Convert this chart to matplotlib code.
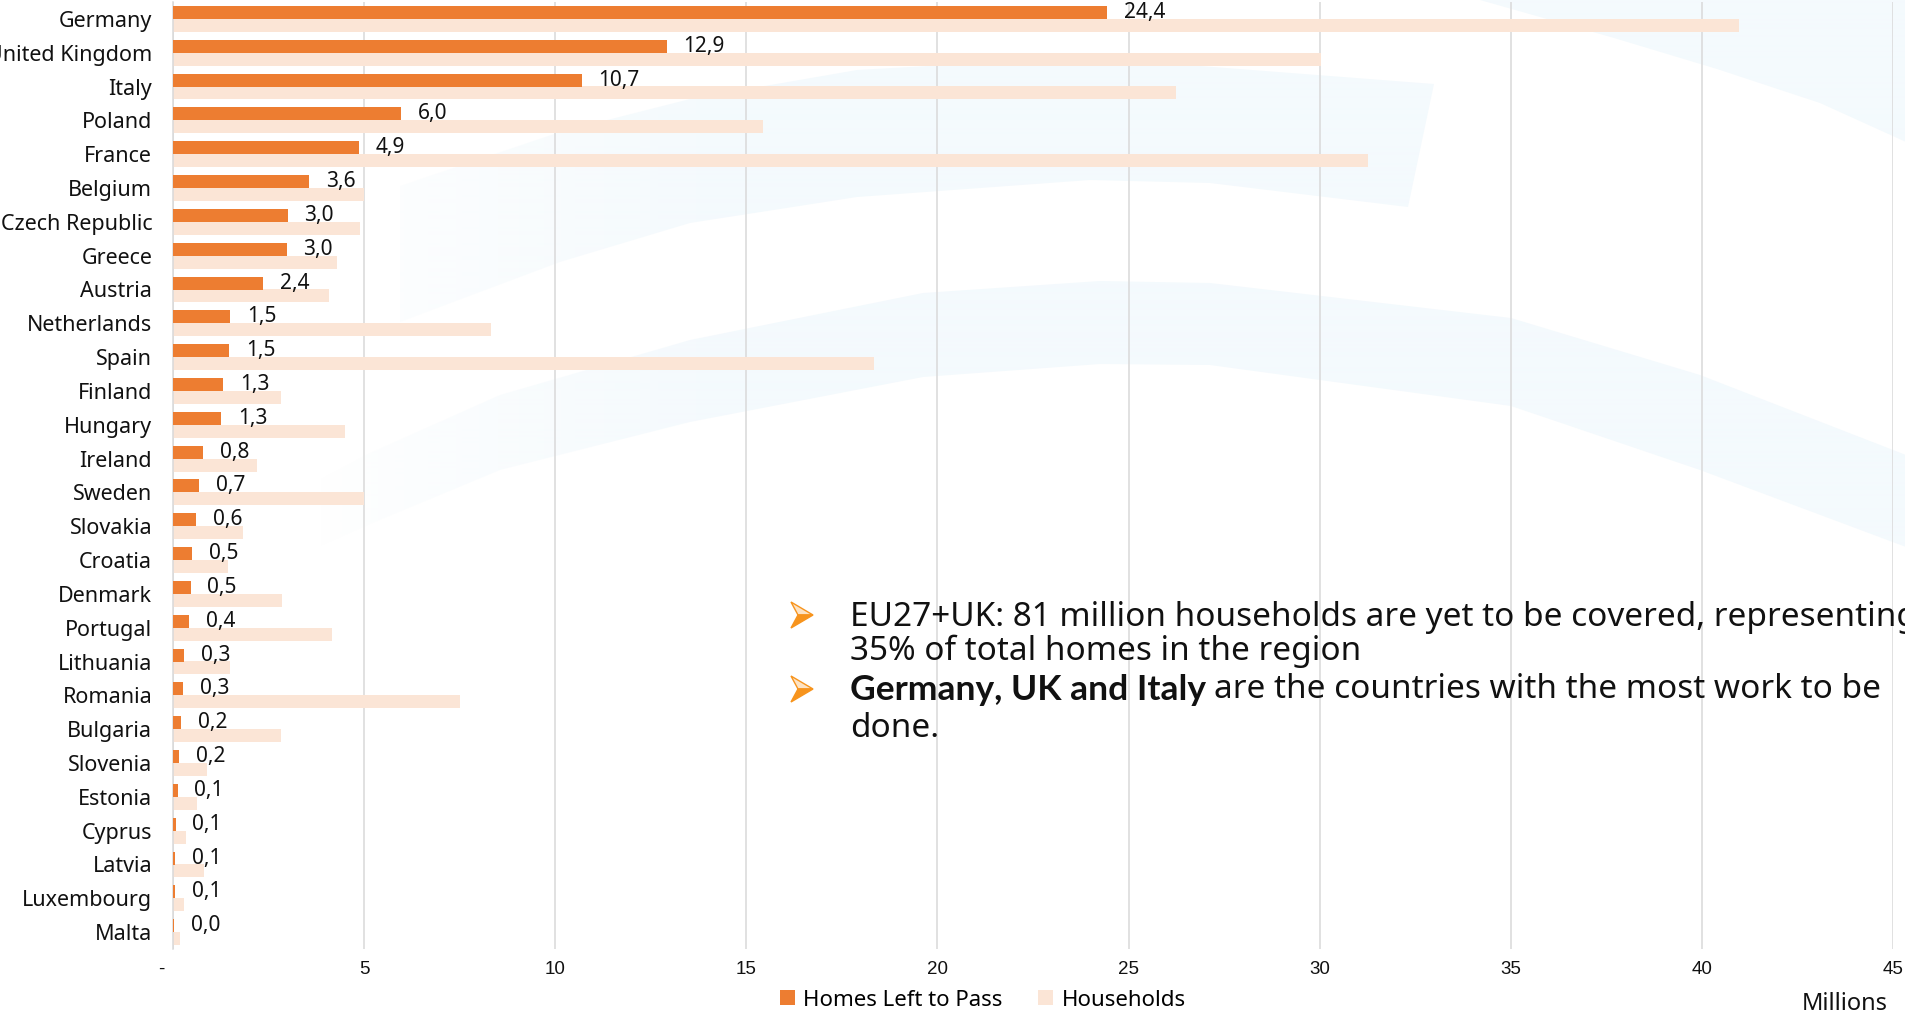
import matplotlib
matplotlib.use("Agg")
import matplotlib.pyplot as plt
from matplotlib.patches import Polygon, Patch
from matplotlib.transforms import ScaledTranslation
import numpy as np

# ---------------- data ----------------
countries = ["Germany", "United Kingdom", "Italy", "Poland", "France", "Belgium",
             "Czech Republic", "Greece", "Austria", "Netherlands", "Spain", "Finland",
             "Hungary", "Ireland", "Sweden", "Slovakia", "Croatia", "Denmark",
             "Portugal", "Lithuania", "Romania", "Bulgaria", "Slovenia", "Estonia",
             "Cyprus", "Latvia", "Luxembourg", "Malta"]
homes_left = [24.44, 12.92, 10.69, 5.96, 4.87, 3.56, 3.00, 2.97, 2.36, 1.50, 1.47, 1.32,
              1.26, 0.79, 0.69, 0.61, 0.50, 0.46, 0.42, 0.29, 0.26, 0.22, 0.16, 0.12,
              0.07, 0.06, 0.06, 0.03]
households = [40.98, 30.04, 26.25, 15.43, 31.27, 5.01, 4.88, 4.29, 4.08, 8.31, 18.35, 2.83,
              4.49, 2.21, 4.99, 1.82, 1.43, 2.85, 4.16, 1.48, 7.51, 2.83, 0.88, 0.63,
              0.34, 0.82, 0.29, 0.18]
x_ticks = [0, 5, 10, 15, 20, 25, 30, 35, 40, 45]
x_tick_labels = ["-    ", "5", "10", "15", "20", "25", "30", "35", "40", "45"]
series_names = ["Homes Left to Pass", "Households"]
bullet_lines = ["EU27+UK: 81 million households are yet to be covered, representing",
                "35% of total homes in the region"]
bullet2_bold = "Germany, UK and Italy"
bullet2_rest = "are the countries with the most work to be"
bullet2_line2 = "done."

ORANGE = "#ED7D31"
PEACH = "#FBE5D6"
GRID = "#D9D9D9"
SWOOSH = "#F4FAFD"
ARROW = "#F7941D"
TXT = "#111111"

plt.rcParams["font.family"] = ["Noto Sans", "DejaVu Sans"]

W, H = 1906, 1014
fig = plt.figure(figsize=(W / 100, H / 100), dpi=100)
fig.patch.set_facecolor("white")

# ---------------- background decoration (pixel coords) ----------------
bg = fig.add_axes([0, 0, 1, 1], zorder=-1)
bg.axis("off")

shapeA = [(400, 186), (560, 132), (690, 99), (857, 70), (1000, 62), (1200, 66), (1434, 84),
          (1408, 207), (1210, 183), (1090, 180), (857, 197), (690, 223), (560, 262), (400, 322)]
shapeB = [(300, 490), (370, 453), (500, 395), (690, 340), (923, 293), (1100, 281), (1210, 283),
          (1511, 318), (1700, 375), (1906, 455), (1906, 547), (1700, 470), (1511, 406),
          (1210, 365), (1100, 364), (923, 377), (690, 422), (500, 470), (370, 524), (300, 555)]
shapeC = [(1480, 0), (1614, 38), (1717, 69), (1820, 103), (1906, 142), (1906, 0)]

rgb = np.array(matplotlib.colors.to_rgb(SWOOSH))
xs = np.arange(W)
alpha = np.clip((xs - 320) / 420.0, 0, 1) ** 0.8
img = np.zeros((2, W, 4))
img[..., :3] = rgb
img[..., 3] = alpha
for pts in (shapeA, shapeB, shapeC):
    poly = Polygon(pts, closed=True, facecolor="none", edgecolor="none")
    bg.add_patch(poly)
    im = bg.imshow(img, extent=(0, W, H, 0), aspect="auto", interpolation="bilinear")
    im.set_clip_path(poly)

# bullet arrowheads (decoration, pixel coords)
for cx, cy in ((802, 615), (802, 689)):
    x0, x1, xn = cx - 11, cx + 11, cx - 4
    up = Polygon([(x0, cy - 13), (x1, cy), (xn, cy)], closed=True,
                 facecolor="#FDE3C4", edgecolor=ARROW, linewidth=1.0)
    lo = Polygon([(xn, cy), (x1, cy), (x0, cy + 13)], closed=True,
                 facecolor=ARROW, edgecolor=ARROW, linewidth=1.0)
    bg.add_patch(up)
    bg.add_patch(lo)

bg.set_xlim(0, W)
bg.set_ylim(H, 0)

# ---------------- main axes ----------------
ax = fig.add_axes([173 / W, 1 - 949 / H, (1893 - 173) / W, (949 - 2) / H])
ax.patch.set_alpha(0)

n = len(countries)
y = np.arange(n)
off = 0.19
bh = 0.385
ax.barh(y - off, homes_left, height=bh, color=ORANGE, label=series_names[0], zorder=3)
ax.barh(y + off, households, height=bh, color=PEACH, label=series_names[1], zorder=2)

for i, v in enumerate(homes_left):
    ax.annotate(f"{v:.1f}".replace(".", ","), xy=(v, i - off), xytext=(12, 0),
                textcoords="offset points", ha="left", va="center",
                fontsize=15, color=TXT, zorder=4)

ax.set_xlim(0, 45)
ax.set_ylim(n - 0.5, -0.5)
ax.set_xticks(x_ticks)
ax.set_xticklabels(x_tick_labels, fontfamily=["Liberation Sans", "DejaVu Sans"],
                   fontsize=13.5, color=TXT)
ax.set_yticks(y)
ax.set_yticklabels(countries, fontsize=15.5, color=TXT)
shift = ScaledTranslation(0, 2.0 / 72, fig.dpi_scale_trans)
for lab in ax.get_yticklabels():
    lab.set_transform(lab.get_transform() + shift)
ax.tick_params(axis="x", length=0, pad=9)
ax.tick_params(axis="y", length=0, pad=15)
ax.xaxis.grid(True, color=GRID, linewidth=1.1)
ax.set_axisbelow(True)
for s in ("top", "right", "bottom"):
    ax.spines[s].set_visible(False)
ax.spines["left"].set_color(GRID)
ax.spines["left"].set_linewidth(1.1)

# ---------------- legend & unit ----------------
handles = [Patch(facecolor=ORANGE, edgecolor="none", label=series_names[0]),
           Patch(facecolor=PEACH, edgecolor="none", label=series_names[1])]
fig.legend(handles=handles, loc="center", bbox_to_anchor=(983 / W, 1 - 1000 / H), ncol=2,
           frameon=False, fontsize=16, handlelength=0.65, handleheight=0.65,
           handletextpad=0.4, columnspacing=1.6)
fig.text(1888 / W, 1 - 1004 / H, "Millions", ha="right", va="center", fontsize=17,
         color=TXT)

# ---------------- bullet text ----------------
def fy(py):
    return 1 - py / H

TX = 850 / W
FS = 24
fig.text(TX, fy(626), bullet_lines[0], fontsize=FS, va="baseline", color=TXT)
fig.text(TX, fy(660), bullet_lines[1], fontsize=FS, va="baseline", color=TXT)
tb = fig.text(TX, fy(700), bullet2_bold, fontsize=25.5, fontweight="bold",
              fontfamily=["Lato", "DejaVu Sans"], va="baseline", color=TXT)
ax.annotate(bullet2_rest, xy=(1, 0), xycoords=tb, xytext=(6, 0), textcoords="offset points",
            ha="left", va="bottom", fontsize=FS, color=TXT, annotation_clip=False)
fig.text(TX, fy(737), bullet2_line2, fontsize=FS, va="baseline", color=TXT)

fig.savefig("out.png", dpi=100, facecolor="white")
